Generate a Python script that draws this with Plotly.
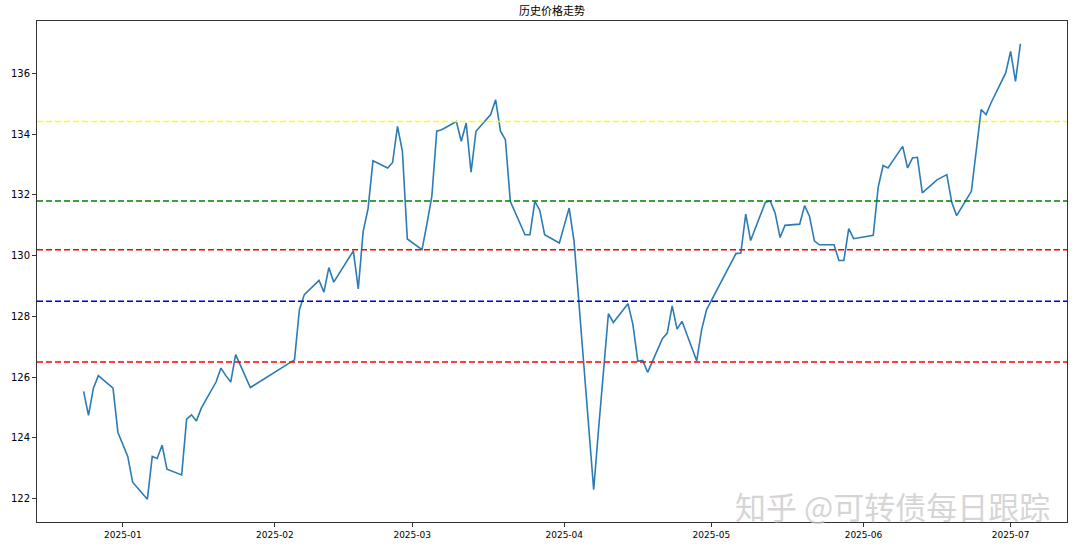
import plotly.graph_objects as go

dates = [
    "2024-12-24", "2024-12-25", "2024-12-26", "2024-12-27", "2024-12-30", "2024-12-31",
    "2025-01-02", "2025-01-03", "2025-01-06", "2025-01-07", "2025-01-08", "2025-01-09", "2025-01-10",
    "2025-01-13", "2025-01-14", "2025-01-15", "2025-01-16", "2025-01-17",
    "2025-01-20", "2025-01-21", "2025-01-22", "2025-01-23", "2025-01-24", "2025-01-27",
    "2025-02-05", "2025-02-06", "2025-02-07", "2025-02-10", "2025-02-11", "2025-02-12", "2025-02-13", "2025-02-14",
    "2025-02-17", "2025-02-18", "2025-02-19", "2025-02-20", "2025-02-21",
    "2025-02-24", "2025-02-25", "2025-02-26", "2025-02-27", "2025-02-28",
    "2025-03-03", "2025-03-04", "2025-03-05", "2025-03-06", "2025-03-07",
    "2025-03-10", "2025-03-11", "2025-03-12", "2025-03-13", "2025-03-14",
    "2025-03-17", "2025-03-18", "2025-03-19", "2025-03-20", "2025-03-21",
    "2025-03-24", "2025-03-25", "2025-03-26", "2025-03-27", "2025-03-28",
    "2025-03-31", "2025-04-01", "2025-04-02", "2025-04-03",
    "2025-04-07", "2025-04-08", "2025-04-09", "2025-04-10", "2025-04-11",
    "2025-04-14", "2025-04-15", "2025-04-16", "2025-04-17", "2025-04-18",
    "2025-04-21", "2025-04-22", "2025-04-23", "2025-04-24", "2025-04-25",
    "2025-04-28", "2025-04-29", "2025-04-30",
    "2025-05-06", "2025-05-07", "2025-05-08", "2025-05-09",
    "2025-05-12", "2025-05-13", "2025-05-14", "2025-05-15", "2025-05-16",
    "2025-05-19", "2025-05-20", "2025-05-21", "2025-05-22", "2025-05-23",
    "2025-05-26", "2025-05-27", "2025-05-28", "2025-05-29", "2025-05-30",
    "2025-06-03", "2025-06-04", "2025-06-05", "2025-06-06",
    "2025-06-09", "2025-06-10", "2025-06-11", "2025-06-12", "2025-06-13",
    "2025-06-16", "2025-06-17", "2025-06-18", "2025-06-19", "2025-06-20",
    "2025-06-23", "2025-06-24", "2025-06-25", "2025-06-26", "2025-06-27",
    "2025-06-30", "2025-07-01", "2025-07-02", "2025-07-03",
]

prices = [
    125.53, 124.74, 125.64, 126.05, 125.64, 124.18,
    123.39, 122.54, 121.98, 123.39, 123.32, 123.76, 122.97,
    122.78, 124.62, 124.76, 124.56, 124.98,
    125.84, 126.30, 126.05, 125.84, 126.74, 125.66,
    126.57, 128.22, 128.72, 129.19, 128.80, 129.61, 129.13, 129.39,
    130.16, 128.91, 130.80, 131.55, 133.13,
    132.89, 133.07, 134.26, 133.44, 130.55,
    130.20, 131.05, 131.95, 134.10, 134.15,
    134.42, 133.77, 134.37, 132.75, 134.10,
    134.65, 135.14, 134.10, 133.82, 131.79,
    130.69, 130.69, 131.79, 131.50, 130.69,
    130.42, 131.00, 131.57, 130.47,
    122.29, 124.30, 126.20, 128.09, 127.80,
    128.42, 127.73, 126.52, 126.55, 126.16,
    127.27, 127.45, 128.35, 127.58, 127.84,
    126.54, 127.56, 128.22,
    130.07, 130.09, 131.37, 130.50,
    131.76, 131.80, 131.40, 130.60, 131.00,
    131.04, 131.65, 131.30, 130.49, 130.36,
    130.36, 129.84, 129.84, 130.89, 130.56,
    130.67, 132.25, 132.97, 132.89,
    133.60, 132.89, 133.22, 133.24, 132.07,
    132.50, 132.59, 132.67, 131.76, 131.32,
    132.12, 133.40, 134.81, 134.65, 135.03,
    136.02, 136.73, 135.74, 136.98,
]
assert len(dates) == len(prices)

level_values = [134.42, 131.80, 130.20, 128.50, 126.50]
level_colors = ["#ffff00", "#008000", "#ff0000", "#0000cc", "#ff0000"]

x_tick_vals = ["2025-01-01", "2025-02-01", "2025-03-01", "2025-04-01",
               "2025-05-01", "2025-06-01", "2025-07-01"]
x_tick_text = ["2025-01", "2025-02", "2025-03", "2025-04", "2025-05", "2025-06", "2025-07"]
y_tick_vals = [122, 124, 126, 128, 130, 132, 134, 136]

title_text = "历史价格走势"
watermark_text = "知乎 @可转债每日跟踪"

fig = go.Figure()
fig.add_trace(go.Scatter(
    x=dates, y=prices, mode="lines",
    line=dict(color="#2b7bb4", width=1.6),
    showlegend=False, hoverinfo="x+y",
))

for v, c in zip(level_values, level_colors):
    fig.add_shape(type="line", xref="paper", x0=0, x1=1, yref="y", y0=v, y1=v,
                  line=dict(color=c, width=1.5, dash="6px,3px"), layer="above")

font_family = "DejaVu Sans, Noto Sans CJK SC, sans-serif"

fig.update_layout(
    width=1080, height=552,
    margin=dict(l=37, r=13, t=21, b=30),
    paper_bgcolor="white", plot_bgcolor="white",
    font=dict(family=font_family, size=10, color="black"),
    title=dict(text=title_text, x=0.5, xref="paper", xanchor="center",
               y=1 - 11 / 552, yanchor="middle", yref="container",
               font=dict(family="Noto Sans CJK SC, sans-serif", size=11, color="black")),
    xaxis=dict(
        type="date",
        range=["2024-12-14 12:00", "2025-07-12 12:00"],
        tickmode="array", tickvals=x_tick_vals, ticktext=x_tick_text,
        ticks="outside", ticklen=4, tickcolor="#333", tickwidth=1,
        showgrid=False, zeroline=False, automargin=False,
        showline=True, linecolor="#333", linewidth=1, mirror=True,
        tickfont=dict(size=9),
    ),
    yaxis=dict(
        range=[121.23, 137.73],
        tickmode="array", tickvals=y_tick_vals,
        ticks="outside", ticklen=4, tickcolor="#333", tickwidth=1,
        showgrid=False, zeroline=False, automargin=False,
        showline=True, linecolor="#333", linewidth=1, mirror=True,
        tickfont=dict(size=10),
    ),
    annotations=[dict(
        text=watermark_text, xref="paper", yref="paper",
        x=0.985, y=-0.015, xanchor="right", yanchor="bottom", showarrow=False,
        font=dict(family="Noto Sans CJK SC, sans-serif", size=31, color="rgba(200,200,200,0.75)"),
    )],
)

fig.write_html("out.html", config={"displayModeBar": False},
               post_script="document.body.style.margin='0';")
